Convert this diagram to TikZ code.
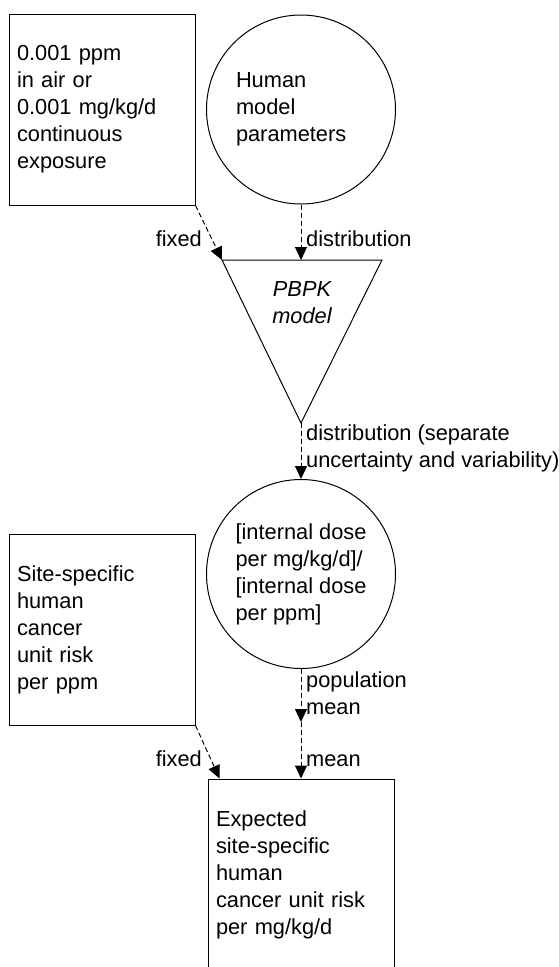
\documentclass[tikz,border=0pt]{standalone}
\usepackage{fontspec}
\setmainfont{Liberation Sans}
\usetikzlibrary{arrows.meta,calc}
\begin{document}
\begin{tikzpicture}[x=1pt,y=-1pt,
  every node/.style={font=\fontsize{21.8}{27}\selectfont},
  box/.style={draw, line width=1pt, rectangle, minimum width=186pt, minimum height=191pt,
    text width=170pt, inner sep=8pt, align=left},
  disc/.style={draw, line width=1pt, circle, minimum size=189pt, inner sep=0pt, align=left},
  conn/.style={line width=1pt, dash pattern=on 5pt off 3pt,
    -{Triangle[length=13pt,width=12pt]}},
  lbl/.style={inner sep=0pt}]
\useasboundingbox (0,0) rectangle (559,967);

% nodes
\node[box] (b1) at (102,109.5) {0.001 ppm\\in air or\\0.001 mg/kg/d\\continuous\\exposure};
\node[disc, text width=130pt] (c1) at (301,109.5) {Human\\model\\parameters};

% PBPK triangle
\coordinate (tl) at (222,260);
\coordinate (tr) at (382,260);
\coordinate (apex) at (301,423);
\coordinate (ptop) at (301,260);
\draw[line width=1pt, line join=miter] (tl) -- (tr) -- (apex) -- cycle;
\node[font=\fontsize{21.8}{27}\selectfont\itshape, align=center, inner sep=0pt] (pbpk) at (302,303) {PBPK\\model};

\node[disc] (c2) at (301,574) {{[}internal dose\\per mg/kg/d{]}/\\{[}internal dose\\per ppm{]}};
\node[box] (b2) at (102,629.5) {Site-specific\\human\\cancer\\unit risk\\per ppm};
\node[box] (b3) at (301,874.5) {Expected\\site-specific\\human\\cancer unit risk\\per mg/kg/d};

\coordinate (mid) at (301,722);
\coordinate (b3tip) at ($(b3.north west)+(12,0)$);

% connectors
\draw[conn] (b1.south east) -- (tl);
\draw[conn] (c1.south) -- (ptop);
\draw[conn] (apex) -- (c2.north);
\draw[conn] (c2.south) -- (mid);
\draw[conn] (mid) -- (b3.north);
\draw[conn] (b2.south east) -- (b3tip);

% labels
\node[lbl, anchor=base east] (lfix1) at (202,246.7) {fixed};
\node[lbl, anchor=base west] (ldist1) at (306,246.7) {distribution};
\node[lbl, anchor=base west, align=left] (ldist2) at (306,467) {distribution (separate\\uncertainty and variability)};
\node[lbl, anchor=base west, align=left] (lpop) at (306,714) {population\\mean};
\node[lbl, anchor=base west] (lmean) at (306,766.5) {mean};
\node[lbl, anchor=base east] (lfix2) at (202,766) {fixed};
\end{tikzpicture}
\end{document}
